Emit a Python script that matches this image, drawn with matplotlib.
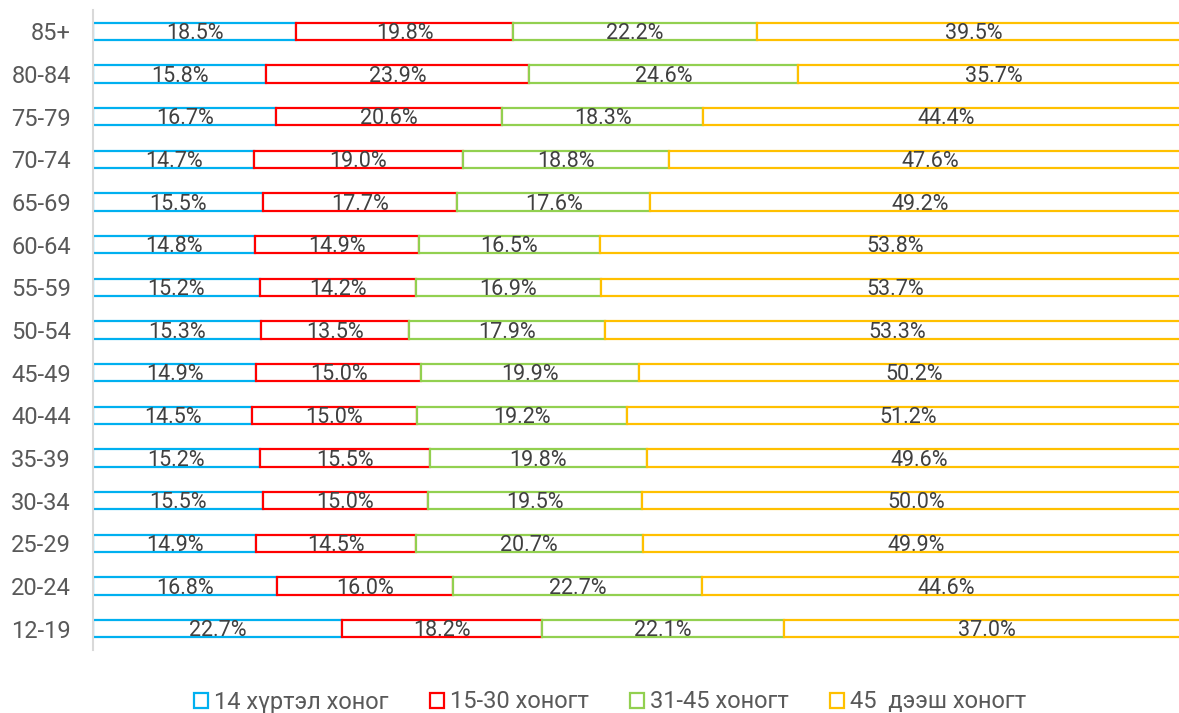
import matplotlib
matplotlib.use("Agg")
import matplotlib.pyplot as plt
from matplotlib.patches import Patch
import numpy as np

plt.rcParams['font.family'] = ['Roboto', 'DejaVu Sans']

categories = ["12-19", "20-24", "25-29", "30-34", "35-39", "40-44", "45-49",
              "50-54", "55-59", "60-64", "65-69", "70-74", "75-79", "80-84", "85+"]
series_names = ["14 хүртэл хоног", "15-30 хоногт", "31-45 хоногт", "45  дээш хоногт"]
s1 = [22.7, 16.8, 14.9, 15.5, 15.2, 14.5, 14.9, 15.3, 15.2, 14.8, 15.5, 14.7, 16.7, 15.8, 18.5]
s2 = [18.2, 16.0, 14.5, 15.0, 15.5, 15.0, 15.0, 13.5, 14.2, 14.9, 17.7, 19.0, 20.6, 23.9, 19.8]
s3 = [22.1, 22.7, 20.7, 19.5, 19.8, 19.2, 19.9, 17.9, 16.9, 16.5, 17.6, 18.8, 18.3, 24.6, 22.2]
s4 = [37.0, 44.6, 49.9, 50.0, 49.6, 51.2, 50.2, 53.3, 53.7, 53.8, 49.2, 47.6, 44.4, 35.7, 39.5]
colors = ["#00B0F0", "#FF0000", "#92D050", "#FFC000"]

W, H = 1179, 713
fig = plt.figure(figsize=(W / 100, H / 100), dpi=100)
ax = fig.add_axes([93 / W, 1 - 650 / H, 1097 / W, 640 / H])

y = np.arange(len(categories))
left = np.zeros(len(categories))
for vals, col in zip([s1, s2, s3, s4], colors):
    vals = np.array(vals)
    ax.barh(y, vals, left=left, height=0.4, facecolor="white", edgecolor=col,
            linewidth=1.6, zorder=2)
    for yi, l, v in zip(y, left, vals):
        ax.text(l + v / 2, yi - 0.05, f"{v:.1f}%", ha="center", va="center",
                fontsize=15.5, color="#404040", zorder=3)
    left += vals

ax.set_xlim(0, 100)
ax.set_ylim(-0.5, len(categories) - 0.5)
ax.set_yticks(y)
ax.set_yticklabels(categories, fontsize=17, color="#595959")
ax.tick_params(axis="y", length=0, pad=16)
ax.set_xticks([])
for s in ["top", "right", "bottom"]:
    ax.spines[s].set_visible(False)
ax.spines["left"].set_color("#D9D9D9")
ax.spines["left"].set_linewidth(1.5)

handles = [Patch(facecolor="white", edgecolor=c, linewidth=1.6) for c in colors]
fig.legend(handles, series_names, loc="center", bbox_to_anchor=(610 / W, 1 - 702 / H),
           ncol=4, frameon=False, fontsize=17, handlelength=0.6, handleheight=0.6,
           handletextpad=0.25, columnspacing=1.75, labelcolor="#595959")

fig.savefig("out.png", dpi=100)
